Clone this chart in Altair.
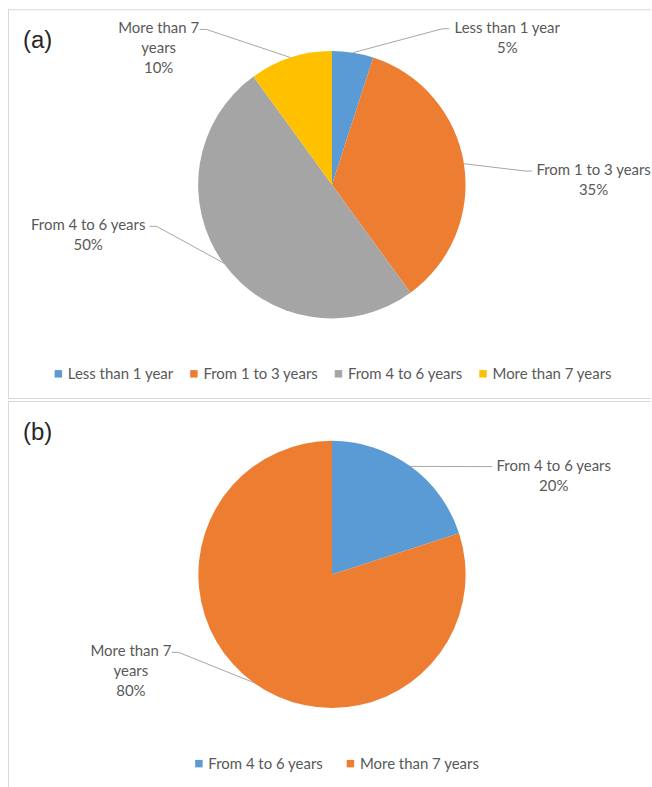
import altair as alt
import pandas as pd

# ---- data ----
cats_a = ["Less than 1 year", "From 1 to 3 years", "From 4 to 6 years", "More than 7 years"]
vals_a = [5, 35, 50, 10]
wrap_a = ["Less than 1 year", "From 1 to 3 years", "From 4 to 6 years", "More than 7\nyears"]
colors_a = ["#5B9BD5", "#ED7D31", "#A5A5A5", "#FFC000"]

cats_b = ["From 4 to 6 years", "More than 7 years"]
vals_b = [20, 80]
wrap_b = ["From 4 to 6 years", "More than 7\nyears"]
colors_b = ["#5B9BD5", "#ED7D31"]

tags = ["(a)", "(b)"]

FONT = "Lato"
FS = 15
TXT = "#595959"
BORDER = "#D9D9D9"
R = 134
PW = 645


def panel(cats, vals, wraps, colors, tag, height, cx, cy, lgx, lgy, colpad, bottom_line):
    df = pd.DataFrame({"cat": cats, "val": vals, "wrap": wraps,
                       "idx": list(range(len(cats)))})
    base = alt.Chart(df)

    arcs = base.mark_arc(radius=R).encode(
        theta=alt.Theta("val:Q", stack=True),
        color=alt.Color(
            "cat:N",
            scale=alt.Scale(domain=cats, range=colors),
            legend=alt.Legend(
                title=None, orient="none", legendX=lgx, legendY=lgy,
                direction="horizontal", columns=len(cats),
                symbolType="square", symbolSize=56, symbolStrokeWidth=0,
                labelFont=FONT, labelFontSize=FS, labelColor=TXT,
                columnPadding=colpad, labelOffset=2, padding=0,
            ),
        ),
        order=alt.Order("idx:Q"),
        x=alt.value(cx),
        y=alt.value(cy),
    )

    geo = (
        base.transform_window(cum="sum(val)", sort=[alt.SortField("idx")], frame=[None, 0])
        .transform_joinaggregate(total="sum(val)")
        .transform_calculate(mid="2*PI*(datum.cum - datum.val/2)/datum.total")
        .transform_calculate(s="sin(datum.mid)")
        .transform_calculate(c="cos(datum.mid)")
        .transform_calculate(sg="datum.s >= 0 ? 1 : -1")
        .transform_calculate(ex=f"{cx} + {R}*datum.s")
        .transform_calculate(ey=f"{cy} - {R}*datum.c")
        .transform_calculate(nl="length(split(datum.wrap, '\\n')) + 1")
        .transform_calculate(w1="length(split(datum.wrap, '\\n')[0]) * 3.45")
        # near edge of the label block sits at a distance that grows with |sin|
        .transform_calculate(lx=f"{cx} + datum.sg*(105 + 100*abs(datum.s) + datum.w1)")
        .transform_calculate(ly=f"{cy} - 150*datum.c*abs(datum.c)")
        .transform_calculate(fy="datum.ly - (datum.nl - 1)*10")
        .transform_calculate(ty="datum.fy - 8")
        .transform_calculate(hx="datum.lx - datum.sg*(datum.w1 + 3)")
        .transform_calculate(kx="datum.lx - datum.sg*(datum.w1 + 10)")
        .transform_calculate(txt="datum.wrap + '\\n' + format(datum.val/datum.total, '.0%')")
    )

    lead1 = geo.mark_rule(color="#A6A6A6", strokeWidth=1).encode(
        x=alt.X("ex:Q", scale=None), y=alt.Y("ey:Q", scale=None),
        x2="kx:Q", y2="fy:Q",
    )
    lead2 = geo.mark_rule(color="#A6A6A6", strokeWidth=1).encode(
        x=alt.X("kx:Q", scale=None), y=alt.Y("fy:Q", scale=None),
        x2="hx:Q", y2="fy:Q",
    )
    labels = geo.mark_text(
        font=FONT, fontSize=FS, color=TXT, align="center", baseline="top",
        lineBreak="\n", lineHeight=20,
    ).encode(
        x=alt.X("lx:Q", scale=None), y=alt.Y("ty:Q", scale=None), text="txt:N",
    )

    tag_df = pd.DataFrame({"t": [tag]})
    tag_txt = alt.Chart(tag_df).mark_text(
        font="Liberation Sans", fontSize=24, color="#262626", align="left", baseline="middle",
    ).encode(text="t:N", x=alt.value(15), y=alt.value(32))

    # panel frame (top, left, and optionally bottom edges), kept inside the panel
    frame_top = alt.Chart(tag_df).mark_rule(color=BORDER, strokeWidth=1).encode(
        x=alt.value(0), x2=alt.value(PW), y=alt.value(0.5))
    frame_left = alt.Chart(tag_df).mark_rule(color=BORDER, strokeWidth=1).encode(
        x=alt.value(0.5), y=alt.value(0), y2=alt.value(height))
    layers = [frame_top, frame_left, arcs, lead1, lead2, labels, tag_txt]
    if bottom_line:
        frame_bot = alt.Chart(tag_df).mark_rule(color=BORDER, strokeWidth=1).encode(
            x=alt.value(0), x2=alt.value(PW), y=alt.value(height - 0.5))
        layers.insert(0, frame_bot)

    return alt.layer(*layers).resolve_scale(
        x="independent", y="independent"
    ).properties(width=PW, height=height)


pa = panel(cats_a, vals_a, wrap_a, colors_a, tags[0], 391, 325, 176, 43, 358, 12, True)
pb = panel(cats_b, vals_b, wrap_b, colors_b, tags[1], 389, 325, 174, 184, 356, 19, False)

chart = (
    alt.vconcat(pa, pb, spacing=0)
    .resolve_scale(color="independent", theta="independent")
    .resolve_legend(color="independent")
    .properties(padding={"left": 7, "top": 7, "right": 0, "bottom": 0}, background="white")
    .configure_view(stroke=None)
)

chart.save("out.html", embed_options={"renderer": "svg", "actions": False})
